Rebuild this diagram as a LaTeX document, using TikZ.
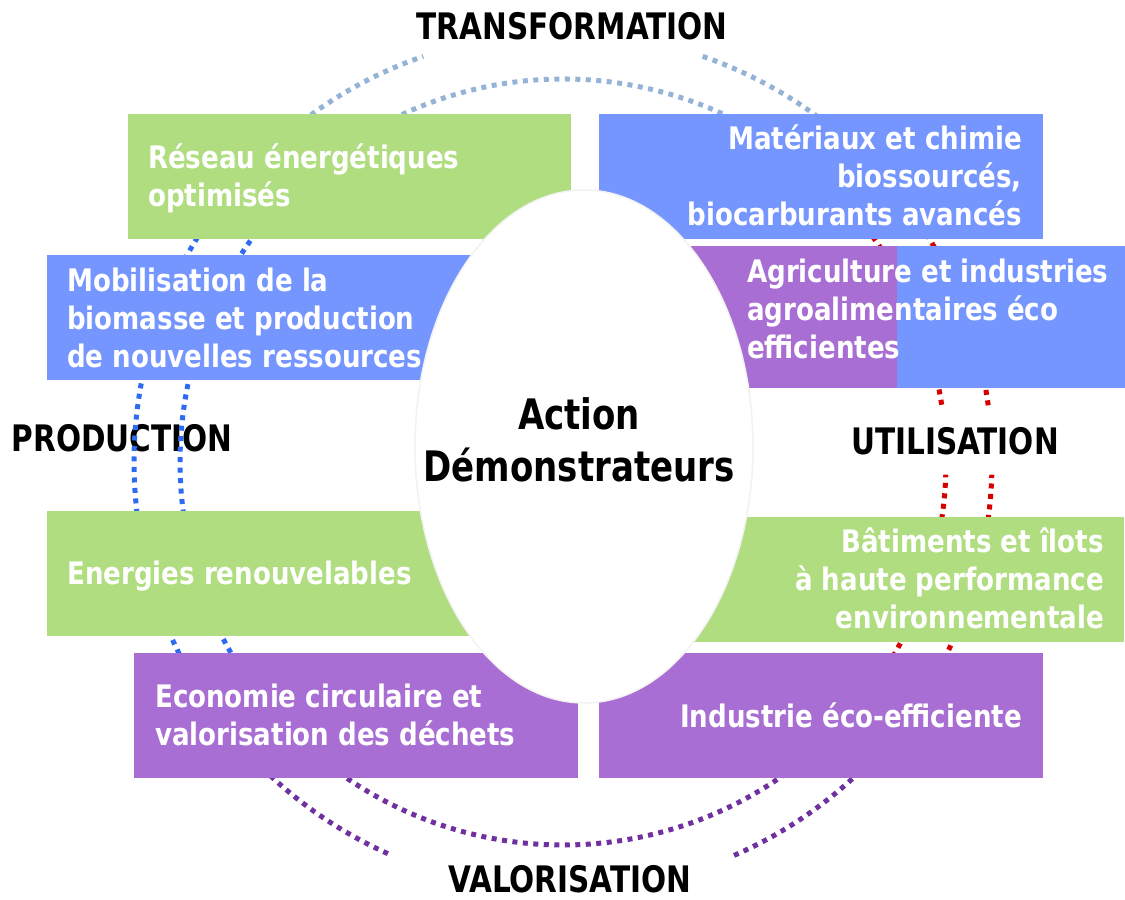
\documentclass[tikz,border=0pt]{standalone}
\usepackage{fontspec}
\newfontfamily\dfont{DejaVu Sans Condensed}[FakeStretch=0.9]
\newfontfamily\wfont{DejaVu Sans Condensed}[FakeStretch=0.935]
\usetikzlibrary{calc,shapes.geometric}
\definecolor{cgreen}{HTML}{B0DD80}
\definecolor{cblue}{HTML}{7596FF}
\definecolor{cpurple}{HTML}{A86ED4}
\definecolor{ctop}{HTML}{95B3D7}
\definecolor{cleft}{HTML}{2E6BF2}
\definecolor{cright}{HTML}{D60000}
\definecolor{cbottom}{HTML}{7030A0}
\newcommand\mlines[2]{\begin{tabular}[t]{@{}#1@{}}#2\end{tabular}}
\tikzset{
  dotarc/.style={line width=5pt, dash pattern=on 5pt off 5.5pt},
  wtext/.style={text=white, inner sep=0pt, font=\wfont\bfseries\fontsize{31}{38}\selectfont},
  lab/.style={text=black, inner sep=0pt, anchor=base, font=\dfont\bfseries\fontsize{36.5}{40}\selectfont},
  ctext/.style={text=black, inner sep=0pt, font=\dfont\bfseries\fontsize{42}{52}\selectfont},
}
\begin{document}
\begin{tikzpicture}[x=1pt,y=1pt]
\useasboundingbox (0,0) rectangle (1125,900);
% labels
\node[lab] (ltrans) at (572,860) {TRANSFORMATION};
\node[lab] (lprod) at (122,448) {PRODUCTION};
\node[lab] (lutil) at (955,445) {UTILISATION};
\node[lab] (lval) at (570,7) {VALORISATION};
% dotted arcs
\coordinate (C) at (563,438);
\draw[dotarc, ctop] (C) ++(140:429) arc[start angle=140, end angle=109, radius=429];
\draw[dotarc, ctop] (C) ++(71:429) arc[start angle=71, end angle=40, radius=429];
\draw[dotarc, ctop] (C) ++(140:383) arc[start angle=140, end angle=40, radius=383];
\draw[dotarc, cleft] (C) ++(140:429) arc[start angle=140, end angle=220, radius=429];
\draw[dotarc, cleft] (C) ++(140:383) arc[start angle=140, end angle=220, radius=383];
\draw[dotarc, cbottom] (C) ++(220:429) arc[start angle=220, end angle=246, radius=429];
\draw[dotarc, cbottom] (C) ++(293.5:429) arc[start angle=293.5, end angle=320, radius=429];
\draw[dotarc, cbottom] (C) ++(220:383) arc[start angle=220, end angle=320, radius=383];
\draw[dotarc, cright] (C) ++(-40:429) arc[start angle=-40, end angle=-1.7, radius=429];
\draw[dotarc, cright] (C) ++(7.6:429) arc[start angle=7.6, end angle=40, radius=429];
\draw[dotarc, cright] (C) ++(-40:383) arc[start angle=-40, end angle=-1.9, radius=383];
\draw[dotarc, cright] (C) ++(8.6:383) arc[start angle=8.6, end angle=40, radius=383];
% boxes
\fill[cgreen] (128,661) rectangle (571,786);
\fill[cblue] (599,661) rectangle (1043,786);
\fill[cblue] (47,520) rectangle (540,645);
\fill[cpurple] (640,512) rectangle (897,654);
\fill[cblue] (897,512) rectangle (1125,654);
\fill[cgreen] (47,264) rectangle (540,389);
\fill[cgreen] (630,258) rectangle (1124,383);
\fill[cpurple] (134,122) rectangle (578,247);
\fill[cpurple] (599,122) rectangle (1043,247);
% central ellipse
\node[draw=black!5, line width=1.5pt, fill=white, ellipse, minimum width=338pt, minimum height=513pt, inner sep=0pt] (ell) at (584,453.5) {};
% box texts
\node[wtext, anchor=base west] (treseau) at (148,731) {\mlines{l}{Réseau énergétiques\\optimisés}};
\node[wtext, anchor=base east] (tmat) at (1022,750) {\mlines{r}{Matériaux et chimie\\biossourcés,\\biocarburants avancés}};
\node[wtext, anchor=base west] (tmob) at (67,608) {\mlines{l}{Mobilisation de la\\biomasse et production\\de nouvelles ressources}};
\node[wtext, anchor=base west] (tagri) at (747,617) {\mlines{l}{Agriculture et industries\\agroalimentaires éco\\efficientes}};
\node[wtext, anchor=base west] (tener) at (67,315) {Energies renouvelables};
\node[wtext, anchor=base east] (tbat) at (1104,347) {\mlines{r}{Bâtiments et îlots\\à haute performance\\environnementale}};
\node[wtext, anchor=base west] (teco) at (155,192) {\mlines{l}{Economie circulaire et\\valorisation des déchets}};
\node[wtext, anchor=base east] (tind) at (1022,172) {Industrie éco-efficiente};
\node[ctext, anchor=base] (tcenter) at (579,470) {\mlines{c}{Action\\Démonstrateurs}};
\end{tikzpicture}
\end{document}
